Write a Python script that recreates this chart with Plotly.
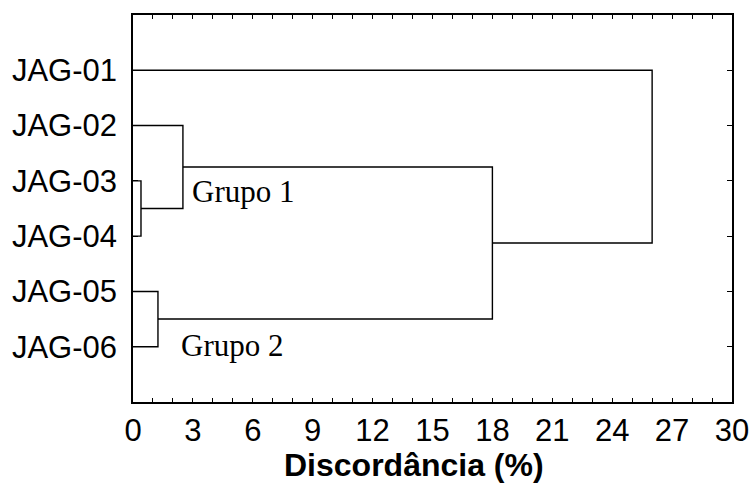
import plotly.graph_objects as go

# Leaves (top to bottom)
leaf_labels = ["JAG-01", "JAG-02", "JAG-03", "JAG-04", "JAG-05", "JAG-06"]

# Linkage: node ids 0-5 are leaves, new clusters get ids 6, 7, ...
merge_a = [2, 4, 1, 8, 0]
merge_b = [3, 5, 6, 7, 9]
merge_dist = [0.4, 1.25, 2.5, 18.0, 26.0]

x_ticks = [0, 3, 6, 9, 12, 15, 18, 21, 24, 27, 30]

group_labels = ["Grupo 1", "Grupo 2"]
group_x = [2.83, 2.3]
group_y = [3.19, 5.97]

# Build dendrogram path
pos = {i: (i + 1, 0.0) for i in range(len(leaf_labels))}
xs, ys = [], []
next_id = len(leaf_labels)
for a, b, d in zip(merge_a, merge_b, merge_dist):
    ya, ha = pos[a]
    yb, hb = pos[b]
    xs += [ha, d, d, hb, None]
    ys += [ya, ya, yb, yb, None]
    pos[next_id] = ((ya + yb) / 2, d)
    next_id += 1

fig = go.Figure()
fig.add_trace(go.Scatter(x=xs, y=ys, mode="lines",
                         line=dict(color="black", width=1.4),
                         hoverinfo="skip", showlegend=False))

sans = "Liberation Sans, Arial, sans-serif"
serif = "Liberation Serif, Times New Roman, serif"

for t, gx, gy in zip(group_labels, group_x, group_y):
    fig.add_annotation(x=gx, y=gy, xref="x", yref="y", text=t, showarrow=False,
                       xanchor="left", yanchor="middle",
                       font=dict(family=serif, size=31, color="black"))

fig.add_annotation(x=0.4695, y=-0.164, xref="paper", yref="paper",
                   text="<b>Discordância (%)</b>", showarrow=False,
                   xanchor="center", yanchor="middle",
                   font=dict(family=sans, size=32, color="black"))

fig.update_xaxes(range=[0, 30], tickvals=x_ticks, ticks="inside", ticklen=4,
                 tickwidth=1, tickcolor="black",
                 minor=dict(dtick=1, ticks="inside", ticklen=4, tickcolor="black", showgrid=False),
                 showline=True, linecolor="black", linewidth=1.5, mirror="allticks",
                 showgrid=False, zeroline=False, automargin=False,
                 tickfont=dict(family=sans, size=31, color="black"))
fig.update_yaxes(range=[7, 0], tickvals=list(range(1, len(leaf_labels) + 1)),
                 ticktext=leaf_labels, ticks="inside", ticklen=5, tickcolor="black",
                 showline=True, linecolor="black", linewidth=1.5, mirror="allticks",
                 showgrid=False, zeroline=False, automargin=False,
                 ticklabelstandoff=8,
                 tickfont=dict(family=sans, size=31, color="black"))

fig.update_layout(width=751, height=493, margin=dict(l=133, r=19, t=15, b=91),
                  plot_bgcolor="white", paper_bgcolor="white")

fig.write_html("out.html")
